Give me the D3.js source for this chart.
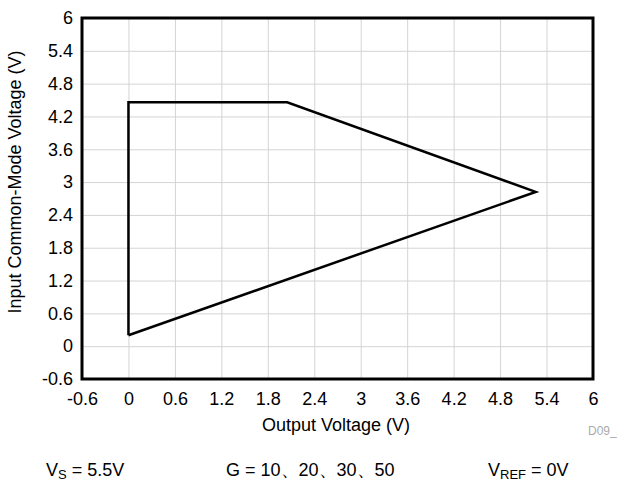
<!DOCTYPE html>
<html>
<head>
<meta charset="utf-8">
<script src="https://cdn.jsdelivr.net/npm/d3@7"></script>
<style>
  body { margin: 0; background: #fff; }
  text { font-family: "Liberation Sans", Arial, sans-serif; }
</style>
</head>
<body>
<svg id="chart" width="619" height="482"></svg>
<script>
// region boundary of input common-mode vs output voltage
const outputVoltage = [0, 0, 2.05, 5.26, 0];
const commonModeVoltage = [0.2, 4.46, 4.46, 2.82, 0.2];
const xTicks = [-0.6, 0, 0.6, 1.2, 1.8, 2.4, 3, 3.6, 4.2, 4.8, 5.4, 6];
const yTicks = [-0.6, 0, 0.6, 1.2, 1.8, 2.4, 3, 3.6, 4.2, 4.8, 5.4, 6];

const svg = d3.select('#chart');
const margins = { left: 82, top: 18, right: 26, bottom: 103 };
const chartWidth = svg.attr('width') - margins.left - margins.right;
const chartHeight = svg.attr('height') - margins.top - margins.bottom;

const x = d3.scaleLinear().domain([-0.6, 6]).range([0, chartWidth]);
const y = d3.scaleLinear().domain([-0.6, 6]).range([chartHeight, 0]);
const fmt = d => String(d);
const fontFam = '"Liberation Sans", Arial, sans-serif';

const chartArea = svg.append('g').attr('transform', `translate(${margins.left},${margins.top})`);

// gridlines
chartArea.append('g')
  .attr('transform', `translate(0,${chartHeight})`)
  .call(d3.axisBottom(x).tickValues(xTicks).tickSize(-chartHeight).tickFormat(''))
  .call(g => g.select('.domain').remove())
  .call(g => g.selectAll('line').attr('stroke', '#d4d4d4').attr('stroke-width', 1));
chartArea.append('g')
  .call(d3.axisLeft(y).tickValues(yTicks).tickSize(-chartWidth).tickFormat(''))
  .call(g => g.select('.domain').remove())
  .call(g => g.selectAll('line').attr('stroke', '#d4d4d4').attr('stroke-width', 1));

// tick labels
chartArea.append('g')
  .attr('transform', `translate(0,${chartHeight})`)
  .call(d3.axisBottom(x).tickValues(xTicks).tickSize(0).tickPadding(13).tickFormat(fmt))
  .call(g => g.select('.domain').remove())
  .call(g => g.selectAll('text').attr('font-size', 18).attr('fill', '#000').style('font-family', fontFam));
chartArea.append('g')
  .call(d3.axisLeft(y).tickValues(yTicks).tickSize(0).tickPadding(9).tickFormat(fmt))
  .call(g => g.select('.domain').remove())
  .call(g => g.selectAll('text').attr('font-size', 18).attr('fill', '#000').style('font-family', fontFam));

// frame
chartArea.append('rect')
  .attr('x', 0).attr('y', 0)
  .attr('width', chartWidth).attr('height', chartHeight)
  .attr('fill', 'none').attr('stroke', '#000').attr('stroke-width', 3);

// data polygon
const pts = outputVoltage.map((v, i) => [v, commonModeVoltage[i]]);
chartArea.append('path')
  .attr('d', d3.line().x(d => x(d[0])).y(d => y(d[1]))(pts))
  .attr('fill', 'none').attr('stroke', '#000').attr('stroke-width', 2.5)
  .attr('stroke-linejoin', 'miter');

// axis titles
svg.append('text')
  .attr('x', 336).attr('y', 431)
  .attr('text-anchor', 'middle').attr('font-size', 18)
  .text('Output Voltage (V)');
svg.append('text')
  .attr('transform', 'translate(21,182) rotate(-90)')
  .attr('text-anchor', 'middle').attr('font-size', 18)
  .text('Input Common-Mode Voltage (V)');

svg.append('text')
  .attr('x', 588).attr('y', 435)
  .attr('font-size', 12).attr('fill', '#aaa')
  .text('D09_');

// conditions line
const cond = svg.append('g').attr('font-size', 18);
const t1 = cond.append('text').attr('x', 46).attr('y', 476);
t1.append('tspan').text('V');
t1.append('tspan').attr('font-size', 13).attr('dy', 3).text('S');
t1.append('tspan').attr('dy', -3).text(' = 5.5V');
cond.append('text').attr('x', 226).attr('y', 476).text('G = 10、20、30、50');
const t3 = cond.append('text').attr('x', 488).attr('y', 476);
t3.append('tspan').text('V');
t3.append('tspan').attr('font-size', 13).attr('dy', 3).text('REF');
t3.append('tspan').attr('dy', -3).text(' = 0V');
</script>
</body>
</html>
